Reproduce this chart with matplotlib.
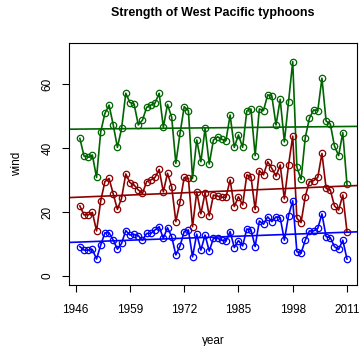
import numpy as np
import matplotlib
matplotlib.use("Agg")
import matplotlib.pyplot as plt

plt.rcParams['font.family'] = ['Liberation Sans', 'DejaVu Sans']

years = np.arange(1947, 2012)

# maximum, mean and minimum typhoon wind per season
wind_max = [43.0, 37.5, 37.1, 37.8, 30.8, 45.1, 50.8, 53.4, 47.2, 40.2,
            46.1, 57.1, 54.2, 53.7, 47.2, 48.7, 52.7, 53.4, 54.0, 57.1,
            46.5, 53.6, 49.6, 35.2, 44.6, 52.9, 51.7, 30.5, 42.5, 35.7,
            46.1, 35.0, 42.5, 43.5, 42.7, 42.3, 50.3, 40.2, 44.1, 40.2,
            51.6, 52.2, 37.6, 52.2, 51.7, 56.6, 56.2, 47.2, 55.2, 41.9,
            54.5, 67.0, 34.0, 30.2, 43.2, 49.3, 51.9, 51.6, 61.8, 48.4,
            47.5, 40.6, 37.6, 44.8, 28.6]
wind_mid = [21.9, 19.1, 19.1, 19.9, 14.1, 23.5, 29.5, 30.5, 25.6, 20.8,
            24.3, 31.9, 29.2, 28.4, 26.9, 25.8, 29.5, 30.0, 30.8, 33.3,
            26.3, 32.1, 27.9, 17.0, 23.2, 30.8, 30.5, 15.4, 26.3, 19.4,
            26.0, 18.8, 25.3, 25.0, 24.6, 24.6, 30.0, 21.7, 24.8, 22.2,
            31.6, 31.0, 20.8, 32.9, 31.6, 35.7, 33.6, 31.2, 34.7, 24.1,
            34.7, 43.7, 18.0, 16.7, 24.8, 29.5, 29.8, 30.8, 38.3, 27.4,
            26.9, 21.9, 20.6, 25.3, 13.9]
wind_min = [9.2, 8.1, 8.1, 8.3, 5.3, 9.7, 13.5, 13.5, 11.2, 8.4,
            10.2, 14.2, 12.8, 13.0, 12.6, 11.2, 13.3, 13.3, 14.4, 15.4,
            11.8, 15.1, 12.3, 6.6, 9.4, 13.9, 14.4, 6.0, 13.1, 8.1,
            12.8, 7.8, 11.8, 11.8, 11.2, 10.9, 13.9, 8.9, 11.1, 9.4,
            14.7, 14.4, 9.2, 17.2, 16.2, 18.5, 17.0, 18.5, 18.2, 11.2,
            18.9, 23.5, 7.6, 7.1, 11.2, 14.1, 14.1, 14.9, 19.4, 12.3,
            12.0, 9.2, 8.3, 11.2, 5.3]

series = [(wind_max, '#006400'), (wind_mid, '#8B0000'), (wind_min, '#0000FF')]
xticks = np.arange(1946, 2012, 13)
yticks = [0, 20, 40, 60]

fig = plt.figure(figsize=(3.63, 3.46), dpi=100)
ax = fig.add_axes([69/363, 1 - 285/346, 288/363, 242/346])

xlim = (1944.4, 2013.4)
for vals, col in series:
    ax.plot(years, vals, '-o', color=col, lw=1.2, ms=4.6,
            mfc='none', mec=col, mew=0.9)
    # least squares trend across the whole plot width
    b, a = np.polyfit(years, vals, 1)
    xs = np.array(xlim)
    ax.plot(xs, a + b * xs, color=col, lw=1.2)

ax.set_xlim(*xlim)
ax.set_ylim(-2.8, 72.8)
ax.set_xticks(xticks)
ax.set_yticks(yticks)
ax.tick_params(direction='out', length=5, width=0.8, labelsize=8.5)
ax.tick_params(axis='x', pad=9)
ax.tick_params(axis='y', labelrotation=90, pad=6)
for lab in ax.get_yticklabels():
    lab.set_va('center')
for sp in ax.spines.values():
    sp.set_linewidth(0.8)

ax.set_xlabel('year', fontsize=8.5)
ax.set_ylabel('wind', fontsize=8.5)
ax.xaxis.set_label_coords(0.5, -0.205)
ax.yaxis.set_label_coords(-0.161, 0.5)

fig.text(213/363, 1 - 13/346, 'Strength of West Pacific typhoons',
         ha='center', va='center', fontsize=9, fontweight='bold')

fig.savefig('out.png', dpi=100)
